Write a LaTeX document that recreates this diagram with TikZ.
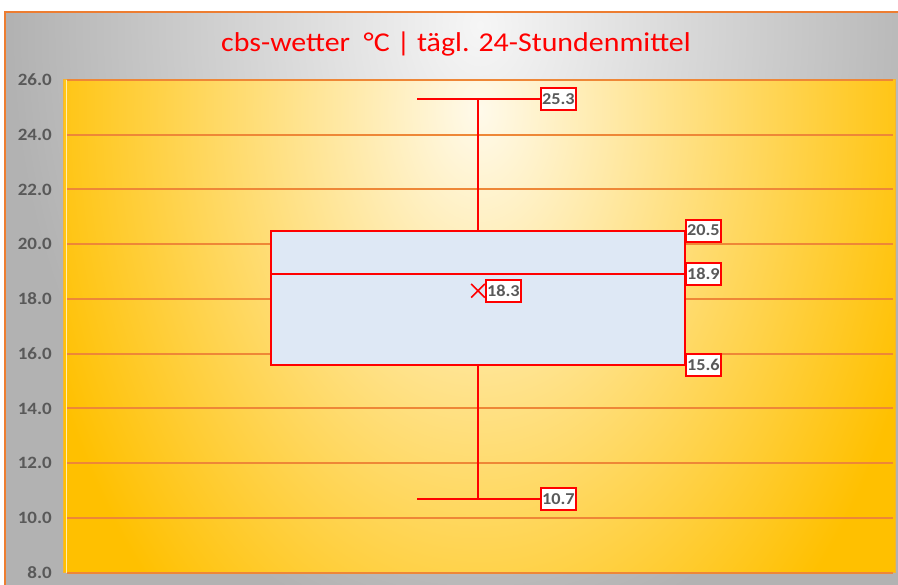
\documentclass[tikz,border=0pt]{standalone}
\usepackage{fontspec}
\setmainfont{Carlito}
\newfontfamily\chartfont{Carlito}[FakeStretch=1.1]
\usetikzlibrary{shapes.misc}
\definecolor{chartred}{RGB}{255,0,0}
\definecolor{axgray}{RGB}{89,89,89}
\definecolor{gridor}{RGB}{238,135,55}
\definecolor{gold}{RGB}{255,192,0}
\definecolor{cream}{RGB}{255,250,235}
\definecolor{bggray}{RGB}{178,178,178}
\definecolor{bglight}{RGB}{246,246,246}
\definecolor{boxblue}{RGB}{222,232,245}
\definecolor{frameor}{RGB}{237,125,49}
\definecolor{plotedge}{RGB}{245,180,50}
\tikzset{
  gridline/.style={draw=gridor, line width=2pt},
  redline/.style={draw=chartred, line width=2pt},
  ylab/.style={anchor=east, text=axgray, font=\chartfont\bfseries\fontsize{17.3}{20}\selectfont, inner sep=0pt},
  vlab/.style={anchor=west, draw=chartred, line width=2pt, fill=white, text=axgray,
    font=\chartfont\bfseries\fontsize{16.6}{18}\selectfont, inner xsep=1pt, inner ysep=0pt, minimum height=22pt},
  titlestyle/.style={anchor=base, text=chartred, font=\chartfont\fontsize{27.2}{32}\selectfont, inner sep=0pt},
  meanmark/.style={cross out, draw=chartred, line width=1.6pt, minimum size=12pt, inner sep=0pt}
}
\begin{document}
\begin{tikzpicture}[x=1pt,y=1pt]
\useasboundingbox (0,0) rectangle (898,585);
\fill[white] (0,0) rectangle (898,585);
% chart area background
\begin{scope}
\clip (5,0) rectangle (898,573);
\fill[bggray] (5,0) rectangle (898,573);
\shade[inner color=bglight, outer color=bggray] (480,560) ellipse [x radius=470pt, y radius=620pt];
\end{scope}
\draw[frameor, line width=2pt] (5,0) -- (5,573) -- (898,573);
% plot area background
\begin{scope}
\clip (63,12.4) rectangle (895,505);
\fill[gold] (63,12.4) rectangle (895,505);
\shade[inner color=cream, outer color=gold] (479,475) ellipse [x radius=460pt, y radius=680pt];
\end{scope}
\draw[plotedge, line width=1pt] (63,12.4) rectangle (895,505);
\draw[white!70!gold, line width=0.8pt] (66,12.4) -- (66,505);
% title
\node[titlestyle] (title) at (456,533) {cbs-wetter\ \ °C | tägl. 24-Stundenmittel};
% data scope
\begin{scope}[y=27.37pt, yshift=-206.6pt]
\foreach \v in {8,10,...,26} {
  \draw[gridline] (67,\v) -- (893,\v);
  \node[ylab] (tick\v) at (52,\v) {\v.0};
}
\coordinate (q1L) at (271,15.6);
\coordinate (q3R) at (685,20.5);
\coordinate (medL) at (271,18.9);
\coordinate (medR) at (685,18.9);
\coordinate (wTop) at (478,25.3);
\coordinate (q3M) at (478,20.5);
\coordinate (q1M) at (478,15.6);
\coordinate (wBot) at (478,10.7);
\coordinate (capTL) at (417,25.3);
\coordinate (capBL) at (417,10.7);
\draw[redline, fill=boxblue] (q1L) rectangle (q3R);
\draw[redline] (medL) -- (medR);
\draw[redline] (wTop) -- (q3M);
\draw[redline] (q1M) -- (wBot);
\node[vlab] (l253) at (540,25.3) {25.3};
\node[vlab] (l107) at (540,10.7) {10.7};
\draw[redline] (capTL) -- (l253.west);
\draw[redline] (capBL) -- (l107.west);
\node[meanmark] (mean) at (478,18.3) {};
\node[vlab] (l183) at (485,18.3) {18.3};
\node[vlab] (l205) at (685,20.5) {20.5};
\node[vlab] (l189) at (685,18.9) {18.9};
\node[vlab] (l156) at (685,15.6) {15.6};
\end{scope}
\end{tikzpicture}
\end{document}
